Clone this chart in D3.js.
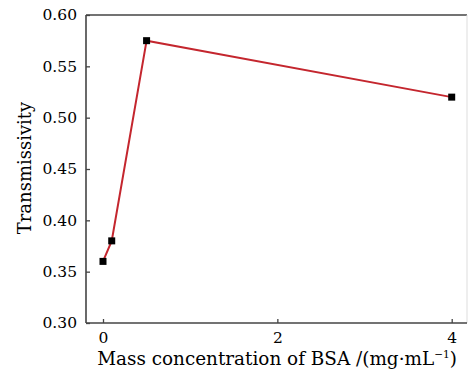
<!DOCTYPE html>
<html>
<head>
<meta charset="utf-8">
<script src="https://cdn.jsdelivr.net/npm/d3@7"></script>
<style>
  html, body { margin: 0; padding: 0; background: #fff; }
  svg { display: block; }
  text { font-family: "DejaVu Serif", serif; fill: #000; }
</style>
</head>
<body>
<svg id="chart" width="468" height="373"></svg>
<script>
// BSA concentration (mg/mL) vs. transmissivity
const concentrations = [0, 0.1, 0.5, 4];
const transmissivity = [0.36, 0.38, 0.575, 0.52];
const xTicks = [0, 2, 4];
const yTicks = [0.30, 0.35, 0.40, 0.45, 0.50, 0.55, 0.60];

const svg = d3.select("#chart");
const plotLeft = 86, plotRight = 467, plotTop = 15, plotBottom = 323;

const x = d3.scaleLinear().domain([0, 4]).range([103, 451.7]);
const y = d3.scaleLinear().domain([0.30, 0.60]).range([plotBottom, plotTop]);

// plot frame
svg.append("line").attr("x1", plotLeft).attr("x2", plotRight).attr("y1", plotTop).attr("y2", plotTop)
  .attr("stroke", "#444").attr("stroke-width", 1.6);
svg.append("line").attr("x1", plotRight).attr("x2", plotRight).attr("y1", plotTop).attr("y2", plotBottom)
  .attr("stroke", "#ddd").attr("stroke-width", 1);

// y axis, ticks pointing inward
const yAxis = svg.append("g").attr("transform", `translate(${plotLeft},0)`)
  .call(d3.axisLeft(y).tickValues(yTicks).tickFormat(d3.format(".2f"))
    .tickSizeInner(-4).tickSizeOuter(0).tickPadding(9));
yAxis.select(".domain").attr("stroke", "#444").attr("stroke-width", 1.6)
  .attr("d", `M0,${plotTop}V${plotBottom}`);
yAxis.selectAll(".tick line").attr("stroke", "#444").attr("stroke-width", 1.3);
yAxis.selectAll(".tick text").style("font-size", "15.5px").attr("fill", "#000")
  .attr("font-family", "DejaVu Serif");

// x axis, ticks pointing inward
const xAxis = svg.append("g").attr("transform", `translate(0,${plotBottom})`)
  .call(d3.axisBottom(x).tickValues(xTicks).tickFormat(d3.format("d"))
    .tickSizeInner(-4).tickSizeOuter(0).tickPadding(9));
xAxis.select(".domain").attr("stroke", "#444").attr("stroke-width", 1.6)
  .attr("d", `M${plotLeft},0H${plotRight}`);
xAxis.selectAll(".tick line").attr("stroke", "#444").attr("stroke-width", 1.3);
xAxis.selectAll(".tick text").style("font-size", "15.5px").attr("fill", "#000")
  .attr("font-family", "DejaVu Serif");

// axis titles
const xTitle = svg.append("text")
  .attr("x", 277).attr("y", 365)
  .attr("text-anchor", "middle")
  .style("font-size", "18.4px");
xTitle.append("tspan").text("Mass concentration of BSA /(mg\u00B7mL");
xTitle.append("tspan").attr("dy", -7).style("font-size", "10.5px").text("\u22121");
xTitle.append("tspan").attr("dy", 7).text(")");

svg.append("text")
  .attr("transform", "translate(31,168) rotate(-90)")
  .attr("text-anchor", "middle")
  .style("font-size", "18px")
  .text("Transmissivity");

// data line and markers
const pts = concentrations.map((c, i) => [c, transmissivity[i]]);
svg.append("path")
  .datum(pts)
  .attr("fill", "none")
  .attr("stroke", "#c4262e")
  .attr("stroke-width", 2)
  .attr("d", d3.line().x(d => x(d[0])).y(d => y(d[1])));

svg.selectAll("rect.marker")
  .data(pts)
  .join("rect")
  .attr("class", "marker")
  .attr("x", d => x(d[0]) - 3.5)
  .attr("y", d => y(d[1]) - 3.5)
  .attr("width", 7)
  .attr("height", 7)
  .attr("fill", "#000");
</script>
</body>
</html>
